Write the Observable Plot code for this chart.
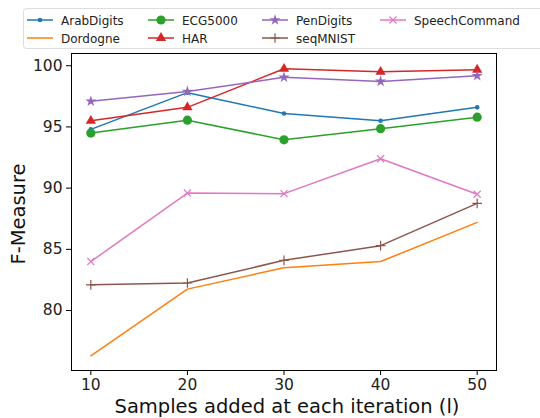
<!DOCTYPE html>
<html>
<head>
<meta charset="utf-8">
<script src="https://cdn.jsdelivr.net/npm/d3@7"></script>
<script src="https://cdn.jsdelivr.net/npm/@observablehq/plot@0.6"></script>
<style>
  html, body { margin: 0; padding: 0; background: #fff; }
  svg { font-family: "DejaVu Sans", sans-serif; }
</style>
</head>
<body>
<div id="chart"></div>
<script>
const samples = [10, 20, 30, 40, 50];
const seriesNames = ["ArabDigits", "Dordogne", "ECG5000", "HAR", "PenDigits", "seqMNIST", "SpeechCommand"];
const arabDigits    = [94.8, 97.8, 96.1, 95.5, 96.6];
const dordogne      = [76.3, 81.75, 83.5, 84.0, 87.2];
const ecg5000       = [94.5, 95.55, 93.95, 94.86, 95.8];
const har           = [95.5, 96.6, 99.75, 99.5, 99.67];
const penDigits     = [97.1, 97.9, 99.05, 98.72, 99.18];
const seqMNIST      = [82.1, 82.25, 84.1, 85.3, 88.75];
const speechCommand = [84.0, 89.6, 89.55, 92.4, 89.5];
const xTicks = [10, 20, 30, 40, 50];
const yTicks = [80, 85, 90, 95, 100];

const values = [arabDigits, dordogne, ecg5000, har, penDigits, seqMNIST, speechCommand];
const colors = ["#1f77b4", "#ff7f0e", "#2ca02c", "#d62728", "#9467bd", "#8c564b", "#e377c2"];
const symbols = ["circle", null, "circle", "triangle", "star", "plus", "times"];
const sizes = [2.3, 0, 4.6, 3.8, 3.5, 3.2, 3.3];
const strokeSym = [false, false, false, false, false, true, true];

const data = [];
seriesNames.forEach((name, i) => {
  samples.forEach((s, j) => data.push({series: name, x: s, y: values[i][j]}));
});

const marks = [Plot.frame({stroke: "#000", strokeWidth: 1})];
seriesNames.forEach((name, i) => {
  const d = data.filter(r => r.series === name);
  marks.push(Plot.line(d, {x: "x", y: "y", stroke: colors[i], strokeWidth: 1.5}));
  if (symbols[i]) {
    if (strokeSym[i]) {
      marks.push(Plot.dot(d, {x: "x", y: "y", symbol: symbols[i], r: sizes[i], stroke: colors[i], strokeWidth: 1.2, fill: "none"}));
    } else {
      marks.push(Plot.dot(d, {x: "x", y: "y", symbol: symbols[i], r: sizes[i], fill: colors[i], stroke: "none"}));
    }
  }
});

const chart = Plot.plot({
  width: 540,
  height: 418,
  marginLeft: 71,
  marginRight: 44,
  marginTop: 53,
  marginBottom: 48,
  style: {fontFamily: "DejaVu Sans, sans-serif", fontSize: "15.5px", color: "#000", background: "#fff"},
  x: {domain: [8, 52], ticks: xTicks, tickSize: 5, tickPadding: 3, label: null},
  y: {domain: [75.1, 101], ticks: yTicks, tickSize: 5, tickPadding: 4, label: null},
  marks
});
document.getElementById("chart").appendChild(chart);

const svg = d3.select(chart);
svg.selectAll("[aria-label='x-axis tick label'] text, [aria-label='y-axis tick label'] text")
  .attr("fill", "#222");

// axis labels
svg.append("text")
  .attr("x", 287).attr("y", 413)
  .attr("text-anchor", "middle")
  .attr("font-size", 19.5).attr("fill", "#111")
  .text("Samples added at each iteration (l)");
svg.append("text")
  .attr("transform", "translate(25,214) rotate(-90)")
  .attr("text-anchor", "middle")
  .attr("font-size", 19.5).attr("fill", "#111")
  .text("F-Measure");

// legend
const lg = svg.append("g");
lg.append("rect")
  .attr("x", 23.5).attr("y", 8.5).attr("width", 530).attr("height", 40)
  .attr("rx", 3).attr("fill", "#fff").attr("stroke", "#ddd").attr("stroke-width", 1);
const colX = [27, 148, 262, 380];
const rowY = [20, 38];
seriesNames.forEach((name, i) => {
  const col = Math.floor(i / 2), row = i % 2;
  const x0 = colX[col], y0 = rowY[row];
  const g = lg.append("g");
  g.append("line").attr("x1", x0).attr("x2", x0 + 26).attr("y1", y0).attr("y2", y0)
    .attr("stroke", colors[i]).attr("stroke-width", 1.5);
  const cx = x0 + 13;
  const r = sizes[i];
  if (symbols[i]) {
    const symMap = {circle: d3.symbolCircle, triangle: d3.symbolTriangle, star: d3.symbolStar, plus: d3.symbolPlus, times: d3.symbolTimes};
    const area = Math.PI * r * r;
    const p = d3.symbol(symMap[symbols[i]], area)();
    const el = g.append("path").attr("d", p).attr("transform", `translate(${cx},${y0})`);
    if (strokeSym[i]) el.attr("fill", "none").attr("stroke", colors[i]).attr("stroke-width", 1.2);
    else el.attr("fill", colors[i]);
  }
  g.append("text").attr("x", x0 + 34).attr("y", y0 + 4.5)
    .attr("text-anchor", "start")
    .attr("font-size", 12).attr("fill", "#222").text(name);
});
</script>
</body>
</html>
